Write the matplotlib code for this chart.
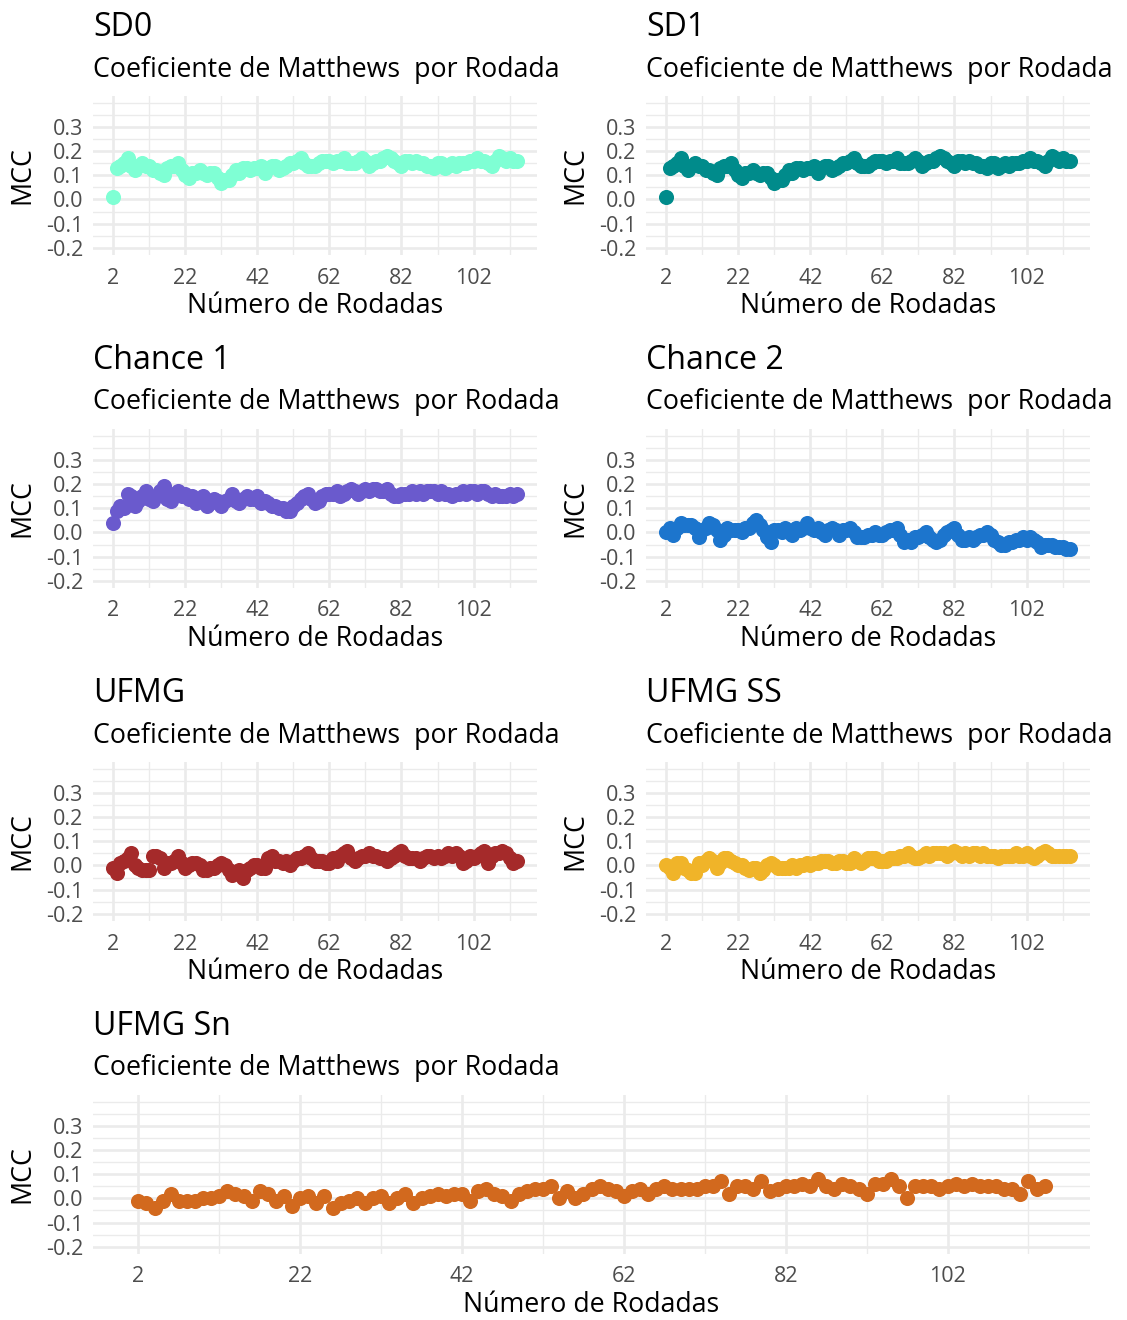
import matplotlib.pyplot as plt
import numpy as np

plt.rcParams['font.family'] = ['Open Sans', 'DejaVu Sans']

# rodadas 2..114
rodadas = np.arange(2, 115)

sd0 = [0.01, 0.13, 0.14, 0.15, 0.17, 0.14, 0.12, 0.14, 0.15, 0.14,
       0.14, 0.12, 0.12, 0.11, 0.10, 0.13, 0.14, 0.14, 0.15, 0.12,
       0.10, 0.09, 0.11, 0.11, 0.12, 0.11, 0.10, 0.11, 0.11, 0.09,
       0.07, 0.08, 0.08, 0.10, 0.12, 0.11, 0.13, 0.13, 0.12, 0.13,
       0.13, 0.14, 0.11, 0.13, 0.14, 0.14, 0.12, 0.13, 0.14, 0.15,
       0.15, 0.16, 0.17, 0.15, 0.14, 0.14, 0.14, 0.15, 0.16, 0.16,
       0.16, 0.15, 0.16, 0.16, 0.17, 0.15, 0.15, 0.15, 0.16, 0.17,
       0.16, 0.14, 0.15, 0.16, 0.16, 0.17, 0.18, 0.17, 0.16, 0.15,
       0.14, 0.16, 0.16, 0.15, 0.16, 0.15, 0.15, 0.14, 0.14, 0.13,
       0.15, 0.15, 0.13, 0.14, 0.15, 0.14, 0.15, 0.15, 0.15, 0.16,
       0.16, 0.17, 0.16, 0.16, 0.15, 0.14, 0.16, 0.18, 0.17, 0.16,
       0.17, 0.16, 0.16]

sd1 = [0.01, 0.13, 0.14, 0.15, 0.17, 0.14, 0.12, 0.14, 0.15, 0.14,
       0.14, 0.12, 0.12, 0.11, 0.10, 0.13, 0.14, 0.14, 0.15, 0.12,
       0.10, 0.09, 0.11, 0.11, 0.12, 0.11, 0.10, 0.11, 0.11, 0.09,
       0.07, 0.08, 0.08, 0.10, 0.12, 0.11, 0.13, 0.13, 0.12, 0.13,
       0.13, 0.14, 0.11, 0.13, 0.14, 0.14, 0.12, 0.13, 0.14, 0.15,
       0.15, 0.16, 0.17, 0.15, 0.14, 0.14, 0.14, 0.15, 0.16, 0.16,
       0.16, 0.15, 0.16, 0.16, 0.17, 0.15, 0.15, 0.15, 0.16, 0.17,
       0.16, 0.14, 0.15, 0.16, 0.16, 0.17, 0.18, 0.17, 0.16, 0.15,
       0.14, 0.16, 0.16, 0.15, 0.16, 0.15, 0.15, 0.14, 0.14, 0.13,
       0.15, 0.15, 0.13, 0.14, 0.15, 0.14, 0.15, 0.15, 0.15, 0.16,
       0.16, 0.17, 0.16, 0.16, 0.15, 0.14, 0.16, 0.18, 0.17, 0.16,
       0.17, 0.16, 0.16]

chance1 = [0.04, 0.09, 0.11, 0.10, 0.16, 0.15, 0.11, 0.13, 0.15, 0.17,
           0.14, 0.13, 0.15, 0.17, 0.19, 0.14, 0.13, 0.16, 0.17, 0.15,
           0.16, 0.14, 0.15, 0.12, 0.14, 0.15, 0.11, 0.12, 0.14, 0.13,
           0.11, 0.13, 0.14, 0.16, 0.13, 0.12, 0.14, 0.15, 0.14, 0.14,
           0.15, 0.12, 0.13, 0.12, 0.11, 0.11, 0.10, 0.10, 0.09, 0.09,
           0.11, 0.12, 0.14, 0.15, 0.16, 0.14, 0.12, 0.13, 0.15, 0.16,
           0.16, 0.16, 0.17, 0.15, 0.16, 0.17, 0.18, 0.17, 0.16, 0.17,
           0.18, 0.17, 0.18, 0.18, 0.17, 0.17, 0.18, 0.16, 0.15, 0.15,
           0.16, 0.16, 0.16, 0.17, 0.16, 0.17, 0.16, 0.17, 0.17, 0.17,
           0.16, 0.17, 0.16, 0.16, 0.15, 0.16, 0.16, 0.17, 0.16, 0.17,
           0.17, 0.16, 0.17, 0.17, 0.16, 0.15, 0.16, 0.15, 0.15, 0.15,
           0.16, 0.15, 0.16]

chance2 = [0.00, 0.02, -0.01, 0.02, 0.04, 0.03, 0.03, 0.03, 0.02, -0.02,
           0.01, 0.02, 0.04, 0.03, 0.01, -0.03, -0.01, 0.02, 0.01, 0.01,
           0.01, 0.00, 0.02, 0.02, 0.04, 0.05, 0.03, 0.01, -0.02, -0.04,
           0.01, 0.01, 0.00, 0.02, 0.00, -0.01, 0.02, 0.01, 0.02, 0.04,
           0.02, 0.01, 0.02, 0.00, -0.01, 0.01, 0.02, 0.01, -0.01, 0.01,
           0.01, 0.02, 0.00, -0.02, -0.02, -0.02, -0.01, -0.01, 0.00, -0.01,
           -0.01, 0.00, 0.01, 0.01, 0.02, -0.01, -0.04, -0.03, -0.04, -0.02,
           -0.02, -0.01, 0.00, -0.02, -0.03, -0.04, -0.03, -0.01, 0.00, 0.01,
           0.02, -0.01, -0.03, -0.03, -0.02, -0.03, -0.02, -0.01, -0.01, 0.00,
           -0.01, -0.03, -0.04, -0.05, -0.05, -0.04, -0.04, -0.03, -0.03, -0.02,
           -0.03, -0.02, -0.03, -0.04, -0.06, -0.05, -0.05, -0.05, -0.06, -0.06,
           -0.06, -0.07, -0.07]

ufmg = [-0.01, -0.03, 0.01, 0.02, 0.03, 0.05, 0.00, -0.01, -0.02, -0.02,
        -0.02, 0.04, 0.04, 0.03, -0.01, 0.01, 0.01, 0.02, 0.04, 0.01,
        -0.01, 0.00, 0.01, 0.01, 0.00, -0.02, -0.02, -0.01, -0.01, 0.00,
        0.01, 0.00, -0.02, -0.04, -0.03, -0.02, -0.05, -0.02, -0.01, 0.00,
        0.00, -0.01, -0.01, 0.03, 0.04, 0.02, 0.02, 0.01, 0.02, 0.00,
        0.02, 0.03, 0.03, 0.04, 0.05, 0.03, 0.02, 0.02, 0.02, 0.01,
        0.01, 0.03, 0.02, 0.04, 0.05, 0.06, 0.03, 0.02, 0.03, 0.04,
        0.04, 0.05, 0.04, 0.04, 0.03, 0.03, 0.02, 0.03, 0.04, 0.05,
        0.06, 0.04, 0.03, 0.03, 0.03, 0.02, 0.03, 0.04, 0.04, 0.03,
        0.04, 0.03, 0.04, 0.05, 0.04, 0.05, 0.04, 0.01, 0.02, 0.04,
        0.03, 0.04, 0.05, 0.06, 0.01, 0.04, 0.05, 0.05, 0.06, 0.05,
        0.03, 0.01, 0.02]

ufmg_ss = [0.00, -0.01, -0.03, 0.01, 0.01, -0.01, -0.02, -0.03, -0.03, 0.01,
           0.00, 0.02, 0.03, 0.02, -0.01, 0.01, 0.03, 0.03, 0.02, 0.01,
           0.00, 0.00, -0.01, -0.02, -0.01, -0.01, -0.03, -0.02, 0.00, 0.01,
           0.00, -0.01, -0.01, -0.01, -0.01, 0.00, -0.01, 0.00, 0.00, 0.01,
           0.00, 0.01, 0.01, 0.02, 0.02, 0.02, 0.01, 0.01, 0.02, 0.02,
           0.01, 0.01, 0.03, 0.02, 0.01, 0.02, 0.03, 0.03, 0.03, 0.02,
           0.02, 0.02, 0.03, 0.03, 0.03, 0.04, 0.04, 0.05, 0.04, 0.03,
           0.03, 0.04, 0.05, 0.04, 0.05, 0.05, 0.05, 0.05, 0.04, 0.05,
           0.06, 0.05, 0.04, 0.05, 0.04, 0.05, 0.05, 0.04, 0.05, 0.04,
           0.04, 0.04, 0.03, 0.04, 0.04, 0.04, 0.04, 0.05, 0.04, 0.04,
           0.05, 0.04, 0.03, 0.04, 0.05, 0.06, 0.05, 0.04, 0.04, 0.04,
           0.04, 0.04, 0.04]

ufmg_sn = [-0.01, -0.02, -0.04, -0.01, 0.02, -0.01, -0.01, -0.01, 0.00, 0.00,
           0.01, 0.03, 0.02, 0.01, -0.01, 0.03, 0.02, -0.01, 0.01, -0.03,
           0.00, 0.01, -0.02, 0.01, -0.04, -0.02, -0.01, 0.00, -0.02, 0.00,
           0.01, -0.02, 0.00, 0.02, -0.02, 0.00, 0.01, 0.02, 0.01, 0.02,
           0.02, -0.01, 0.03, 0.04, 0.02, 0.01, -0.01, 0.02, 0.03, 0.04,
           0.04, 0.05, 0.00, 0.03, 0.00, 0.02, 0.04, 0.05, 0.04, 0.03,
           0.01, 0.03, 0.04, 0.02, 0.04, 0.05, 0.04, 0.04, 0.04, 0.04,
           0.05, 0.05, 0.07, 0.02, 0.05, 0.05, 0.04, 0.07, 0.03, 0.04,
           0.05, 0.05, 0.06, 0.05, 0.08, 0.05, 0.04, 0.06, 0.05, 0.04,
           0.02, 0.06, 0.06, 0.08, 0.05, 0.00, 0.05, 0.05, 0.05, 0.04,
           0.05, 0.06, 0.05, 0.06, 0.05, 0.05, 0.05, 0.04, 0.04, 0.02,
           0.07, 0.04, 0.05]

nomes = ["SD0", "SD1", "Chance 1", "Chance 2", "UFMG", "UFMG SS", "UFMG Sn"]
series = [sd0, sd1, chance1, chance2, ufmg, ufmg_ss, ufmg_sn]
cores = ["#7FFFD4", "#008B8B", "#6A5ACD", "#1C75CD", "#A52A2A", "#F0B429", "#D2691E"]

y_breaks = [-0.2, -0.1, 0.0, 0.1, 0.2, 0.3]
y_labels = ["-0.2", "-0.1", "0.0", "0.1", "0.2", "0.3"]

W, H = 1127, 1320
fig = plt.figure(figsize=(W / 100, H / 100), dpi=100)

ALT = 159.5        # altura de cada painel em px
GRADE = "#EBEBEB"
BASE = 19.3


def painel(nome, valores, cor, esq, larg, topo):
    ax = fig.add_axes([esq / W, 1 - (topo + ALT) / H, larg / W, ALT / H])
    ax.scatter(rodadas, valores, s=118, color=cor, linewidths=0, zorder=3)

    ax.set_xlim(-3.6, 119.6)
    ax.set_ylim(-0.23, 0.43)
    ax.set_xticks(np.arange(2, 103, 20))
    ax.set_xticks(np.arange(12, 113, 20), minor=True)
    ax.set_yticks(y_breaks)
    ax.set_yticklabels(y_labels)
    ax.set_yticks([-0.15, -0.05, 0.05, 0.15, 0.25, 0.35, 0.4], minor=True)

    ax.grid(which="major", color=GRADE, lw=1.9)
    ax.grid(which="minor", color=GRADE, lw=0.95)
    ax.set_axisbelow(True)
    for s in ax.spines.values():
        s.set_visible(False)
    ax.tick_params(which="both", length=0, labelsize=0.8 * BASE, labelcolor="#4D4D4D")
    ax.tick_params(axis="x", pad=9)
    ax.tick_params(axis="y", pad=7)

    ax.set_xlabel("Número de Rodadas", fontsize=BASE)
    ax.xaxis.label.set_va("center")
    ax.xaxis.set_label_coords(0.5, (255 - 306) / ALT)
    ax.set_ylabel("MCC", fontsize=BASE)
    ax.yaxis.label.set_va("center")
    ax.yaxis.set_label_coords((22 - esq) / larg, 0.5)

    fig.text(esq / W, 1 - (topo - 68) / H, nome, fontsize=1.2 * BASE, va="center")
    fig.text(esq / W, 1 - (topo - 26) / H, "Coeficiente de Matthews  por Rodada",
             fontsize=BASE, va="center")
    return ax


topos = [95.5, 428.5, 761.5, 1094.5]
for k in range(6):
    lin, col = divmod(k, 2)
    esq = 93 if col == 0 else 646
    ax = painel(nomes[k], series[k], cores[k], esq, 444, topos[lin])
    ax.yaxis.set_label_coords((22 + 553 * col - esq) / 444, 0.5)

painel(nomes[6], series[6], cores[6], 93, 997, topos[3])

fig.savefig("out.png", dpi=100)
